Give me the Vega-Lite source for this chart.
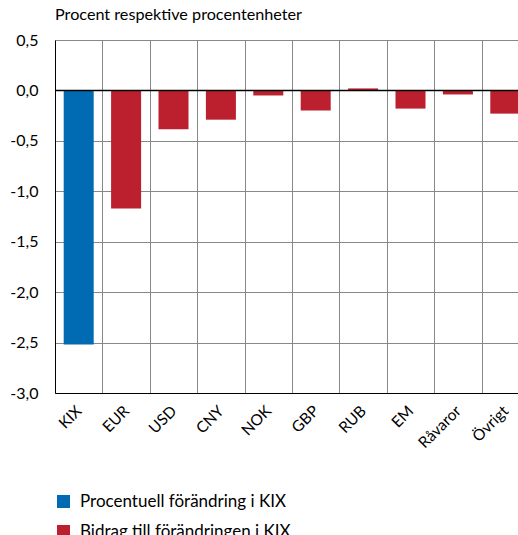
{
  "$schema": "https://vega.github.io/schema/vega-lite/v6.json",
  "width": 474,
  "height": 353,
  "autosize": {"type": "none"},
  "padding": {"left": 55, "top": 40, "right": 0, "bottom": 142},
  "background": "white",
  "title": {"text": "Procent respektive procentenheter", "anchor": "start", "frame": "group", "fontSize": 16.2, "fontWeight": "normal", "font": "Lato", "color": "#000", "offset": 9},
  "config": {"view": {"stroke": null}, "font": "Lato"},
  "data": {"values": [
    {"kategori": "KIX", "varde": -2.52, "serie": "Procentuell förändring i KIX"},
    {"kategori": "EUR", "varde": -1.17, "serie": "Bidrag till förändringen i KIX"},
    {"kategori": "USD", "varde": -0.385, "serie": "Bidrag till förändringen i KIX"},
    {"kategori": "CNY", "varde": -0.29, "serie": "Bidrag till förändringen i KIX"},
    {"kategori": "NOK", "varde": -0.05, "serie": "Bidrag till förändringen i KIX"},
    {"kategori": "GBP", "varde": -0.2, "serie": "Bidrag till förändringen i KIX"},
    {"kategori": "RUB", "varde": 0.02, "serie": "Bidrag till förändringen i KIX"},
    {"kategori": "EM", "varde": -0.18, "serie": "Bidrag till förändringen i KIX"},
    {"kategori": "Råvaror", "varde": -0.04, "serie": "Bidrag till förändringen i KIX"},
    {"kategori": "Övrigt", "varde": -0.23, "serie": "Bidrag till förändringen i KIX"}
  ]},
  "layer": [
    {
      "mark": {"type": "bar", "width": {"band": 0.633}},
      "encoding": {
        "x": {"field": "kategori", "type": "nominal", "sort": null,
          "scale": {"paddingInner": 0, "paddingOuter": 0},
          "axis": {"title": null, "labelAngle": -45, "labelAlign": "right", "labelBaseline": "middle", "labelFontSize": 15.5, "labelColor": "#000", "domainColor": "#000", "ticks": false, "grid": true, "tickBand": "extent", "gridColor": "#888", "labelPadding": 15}},
        "y": {"field": "varde", "type": "quantitative",
          "scale": {"domain": [-3, 0.5], "nice": false},
          "axis": {"title": null, "values": [-3, -2.5, -2, -1.5, -1, -0.5, 0, 0.5], "labelExpr": "replace(replace(format(datum.value, '.1f'), '.', ','), '\u2212', '-')", "ticks": false, "domainColor": "#000", "gridColor": "#888", "labelFontSize": 16, "labelColor": "#000", "labelPadding": 17}},
        "color": {"field": "serie", "type": "nominal",
          "scale": {"domain": ["Procentuell förändring i KIX", "Bidrag till förändringen i KIX"], "range": ["#006ab3", "#bc1f2e"]},
          "legend": {"orient": "none", "legendX": 0, "legendY": 453, "title": null, "symbolType": "square", "symbolSize": 169, "labelFontSize": 17, "labelFont": "Lato", "labelColor": "#000", "labelLimit": 0, "rowPadding": 12, "labelOffset": 8, "symbolStrokeWidth": 0, "direction": "vertical"}}
      }
    },
    {
      "mark": {"type": "rule", "color": "#000", "strokeWidth": 1.5},
      "data": {"values": [{"y": 0}]},
      "encoding": {"y": {"field": "y", "type": "quantitative"}}
    }
  ]
}
